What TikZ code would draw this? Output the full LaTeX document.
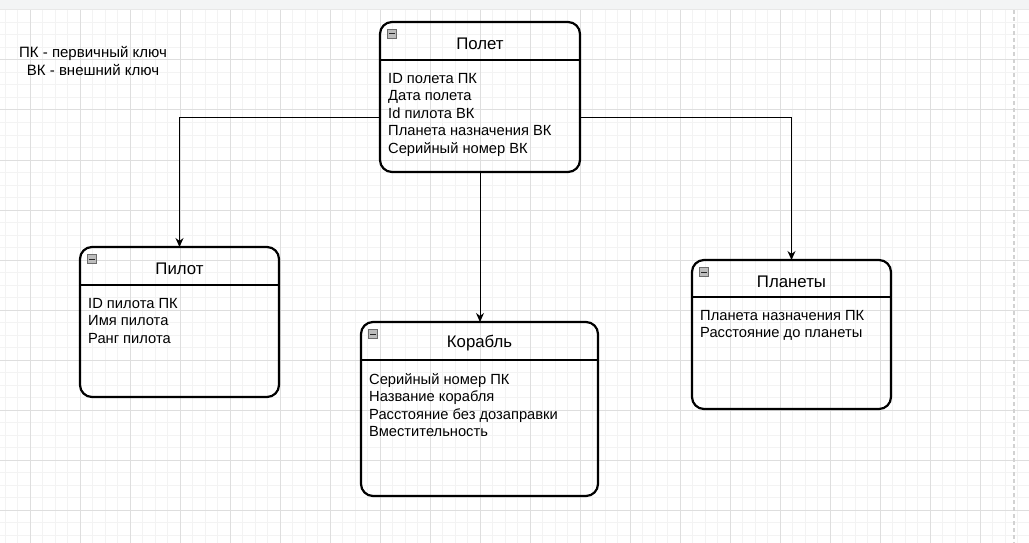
\documentclass[tikz,border=0pt]{standalone}
\usepackage{fontspec}
\setmainfont{Liberation Sans}
\usetikzlibrary{arrows.meta}
\definecolor{gridminor}{HTML}{F3F3F3}
\definecolor{gridmajor}{HTML}{DEDEDE}
\definecolor{topbar}{HTML}{F3F4F5}
\definecolor{iconfill}{HTML}{BDBDBD}
\tikzset{
  entity/.style={draw, line width=2.2pt, rounded corners=12pt, inner sep=0pt, outer sep=0pt},
  headline/.style={line width=2pt},
  title/.style={font=\fontsize{16.8}{19}\selectfont},
  attrs/.style={anchor=north west, align=left, inner sep=0pt, font=\fontsize{14.7}{17.5}\selectfont},
  minusbox/.style={draw=gray!85!black, fill=iconfill, minimum size=9pt, inner sep=0pt, line width=0.6pt,
    path picture={\draw[line width=1pt, gray!30!black] ([xshift=1.8pt]path picture bounding box.west) -- ([xshift=-1.8pt]path picture bounding box.east);}},
  link/.style={-{Stealth[length=9pt,width=8pt]}, line width=1pt}
}
\begin{document}
\begin{tikzpicture}[x=1pt,y=-1pt]
\useasboundingbox (0,0) rectangle (1029,543);
\fill[white] (0,0) rectangle (1029,543);
% grid
\foreach \x in {5,17.5,...,1029} \draw[gridminor, line width=1pt] (\x,0) -- (\x,543);
\foreach \y in {10,22.5,...,543} \draw[gridminor, line width=1pt] (0,\y) -- (1029,\y);
\foreach \x in {30,80,...,1000} \draw[gridmajor, line width=1pt] (\x,0) -- (\x,543);
\foreach \y in {10,60,...,543} \draw[gridmajor, line width=1pt] (0,\y) -- (1029,\y);
\draw[gray!35, line width=1.2pt, dash pattern=on 4pt off 3pt] (1014,10) -- (1014,543);
\fill[topbar] (0,0) rectangle (1029,9);
\draw[gray!18] (0,9) -- (1029,9);
% legend
\node[align=center, font=\fontsize{15}{18}\selectfont] (legend) at (93,61) {ПК - первичный ключ\\ВК - внешний ключ};
% entities
\node[entity, minimum width=200pt, minimum height=150pt] (polet) at (480,97) {};
\draw[headline] ([yshift=-38pt]polet.north west) -- ([yshift=-38pt]polet.north east);
\node[minusbox] (polet-m) at ([xshift=12pt,yshift=-12pt]polet.north west) {};
\node[title] (polet-t) at ([yshift=-21.5pt]polet.north) {Полет};
\node[attrs] (polet-a) at ([xshift=8pt,yshift=-51pt]polet.north west) {ID полета ПК\\Дата полета\\Id пилота ВК\\Планета назначения ВК\\Серийный номер ВК};

\node[entity, minimum width=199pt, minimum height=150pt] (pilot) at (179.5,322) {};
\draw[headline] ([yshift=-38pt]pilot.north west) -- ([yshift=-38pt]pilot.north east);
\node[minusbox] (pilot-m) at ([xshift=12pt,yshift=-12pt]pilot.north west) {};
\node[title] (pilot-t) at ([yshift=-21.5pt]pilot.north) {Пилот};
\node[attrs] (pilot-a) at ([xshift=8pt,yshift=-51pt]pilot.north west) {ID пилота ПК\\Имя пилота\\Ранг пилота};

\node[entity, minimum width=237pt, minimum height=174pt] (korabl) at (479.5,409) {};
\draw[headline] ([yshift=-38pt]korabl.north west) -- ([yshift=-38pt]korabl.north east);
\node[minusbox] (korabl-m) at ([xshift=12pt,yshift=-12pt]korabl.north west) {};
\node[title] (korabl-t) at ([yshift=-21.5pt]korabl.north) {Корабль};
\node[attrs] (korabl-a) at ([xshift=8pt,yshift=-51pt]korabl.north west) {Серийный номер ПК\\Название корабля\\Расстояние без дозаправки\\Вместительность};

\node[entity, minimum width=199pt, minimum height=149pt] (planety) at (791.5,334.5) {};
\draw[headline] ([yshift=-37pt]planety.north west) -- ([yshift=-37pt]planety.north east);
\node[minusbox] (planety-m) at ([xshift=12pt,yshift=-12pt]planety.north west) {};
\node[title] (planety-t) at ([yshift=-21.5pt]planety.north) {Планеты};
\node[attrs] (planety-a) at ([xshift=8pt,yshift=-50pt]planety.north west) {Планета назначения ПК\\Расстояние до планеты};
% links
\draw[link] ([yshift=-20pt]polet.west) -| (pilot.north);
\draw[link] (polet.south) -- (polet.south |- korabl.north);
\draw[link] ([yshift=-20pt]polet.east) -| (planety.north);
\end{tikzpicture}
\end{document}
